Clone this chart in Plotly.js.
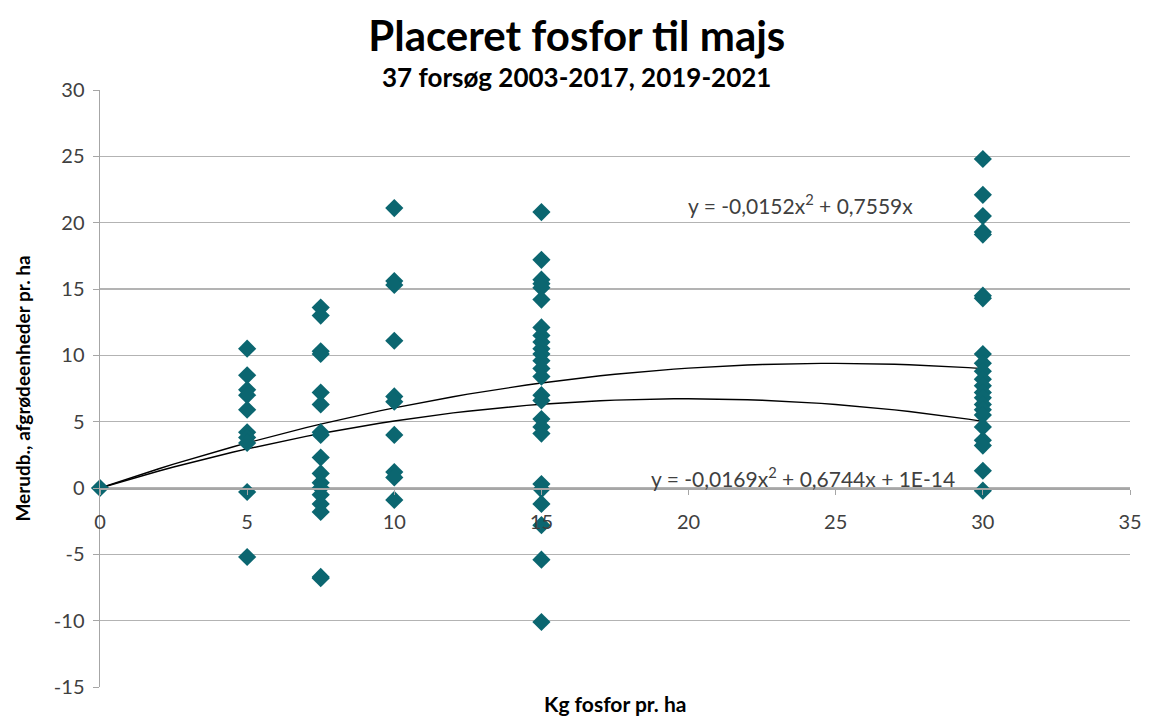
<!DOCTYPE html>
<html>
<head>
<meta charset="utf-8">
<script src="https://cdn.plot.ly/plotly-3.0.1.min.js"></script>
<style>html,body{margin:0;padding:0;background:#fff}#chart{width:1149px;height:717px}</style>
</head>
<body>
<div id="chart"></div>
<script>
// Dose levels (kg P/ha) and observed yield increases per dose
const doses = [0, 5, 7.5, 10, 15, 30];
const y0 = [0];
const y5 = [10.5, 8.5, 7.4, 7.0, 5.9, 4.2, 3.8, 3.4, -0.3, -5.2];
const y7_5 = [13.6, 13.0, 10.3, 10.1, 7.2, 6.3, 4.2, 4.0, 2.3, 1.1, 0.4, 0.0, -0.5, -1.2, -1.8, -6.7, -6.8];
const y10 = [21.1, 15.6, 15.3, 11.1, 6.9, 6.5, 4.0, 1.2, 0.8, -0.9];
const y15 = [20.8, 17.2, 15.7, 15.4, 15.1, 14.2, 12.1, 11.5, 11.0, 10.5, 10.1, 9.6, 9.0, 8.4, 7.0, 6.6, 5.2, 4.6, 4.1, 0.3, -0.1, -1.2, -2.8, -5.4, -10.1];
const y30 = [24.8, 22.1, 20.5, 19.3, 19.1, 14.5, 14.3, 10.1, 9.4, 8.8, 8.2, 7.7, 7.2, 6.8, 6.3, 5.9, 5.5, 4.6, 3.6, 3.2, 1.3, -0.2];
const groups = [y0, y5, y7_5, y10, y15, y30];

// Axis ticks (labels written with a plain hyphen, as in the original)
const xTickVals = [0, 5, 10, 15, 20, 25, 30, 35];
const xTickText = ['0', '5', '10', '15', '20', '25', '30', '35'];
const yTickVals = [-15, -10, -5, 0, 5, 10, 15, 20, 25, 30];
const yTickText = ['-15', '-10', '-5', '0', '5', '10', '15', '20', '25', '30'];

// Trendline coefficients as printed on the chart: [a, b, c] for a*x^2 + b*x + c
const trend1 = [-0.0152, 0.7559, 0];
const trend2 = [-0.0169, 0.6744, 1e-14];
const trendLabel1 = 'y = -0,0152x<sup>2</sup> + 0,7559x';
const trendLabel2 = 'y = -0,0169x<sup>2</sup> + 0,6744x + 1E-14';

const xs = [], ys = [];
groups.forEach((g, i) => g.forEach(v => { xs.push(doses[i]); ys.push(v); }));

function curve(c) {
  const cx = [], cy = [];
  for (let i = 0; i <= 60; i++) { const x = 30 * i / 60; cx.push(x); cy.push(c[0]*x*x + c[1]*x + c[2]); }
  return {x: cx, y: cy};
}
const c1 = curve(trend1), c2 = curve(trend2);

const font = 'Lato, "Open Sans", "Liberation Sans", sans-serif';
const data = [
  {x: c1.x, y: c1.y, mode: 'lines', line: {color: '#000', width: 1.4}, hoverinfo: 'skip'},
  {x: c2.x, y: c2.y, mode: 'lines', line: {color: '#000', width: 1.4}, hoverinfo: 'skip'},
  {x: xs, y: ys, mode: 'markers', cliponaxis: false,
   marker: {symbol: 'diamond', size: 14, color: '#0b6670'}}
];

const layout = {
  width: 1149, height: 717,
  margin: {l: 100, r: 19, t: 90, b: 30},
  paper_bgcolor: '#fff', plot_bgcolor: '#fff',
  showlegend: false,
  font: {family: font, size: 20, color: '#404040'},
  title: {text: '<b>Placeret fosfor til majs</b>', x: 0.502, xanchor: 'center', y: 0.95, yanchor: 'middle',
          font: {family: font, size: 42, color: '#000'}},
  xaxis: {range: [0, 35], tickmode: 'array', tickvals: xTickVals, ticktext: xTickText,
          showgrid: false, zeroline: false,
          anchor: 'free', position: 1/3, showline: true, linecolor: '#a6a6a6', linewidth: 1.5,
          ticks: 'outside', ticklen: 5, tickcolor: '#a6a6a6', ticklabelstandoff: 10,
          tickfont: {family: font, size: 20, color: '#404040'}},
  yaxis: {range: [-15, 30], tickmode: 'array', tickvals: yTickVals, ticktext: yTickText,
          showgrid: true, gridcolor: '#b3b3b3', gridwidth: 1.5,
          zeroline: false, showline: true, linecolor: '#a6a6a6', linewidth: 1.5,
          ticks: 'outside', ticklen: 6, tickcolor: '#a6a6a6', ticklabelstandoff: 4,
          tickfont: {family: font, size: 20, color: '#404040'},
          title: {text: '<b>Merudb., afgrødeenheder pr. ha</b>', standoff: 18,
                  font: {family: font, size: 19, color: '#000'}}},
  annotations: [
    {text: '<b>37 forsøg 2003-2017, 2019-2021</b>', xref: 'paper', yref: 'paper', x: 0.463, y: 1.022,
     xanchor: 'center', yanchor: 'middle', showarrow: false,
     font: {family: font, size: 26, color: '#000'}},
    {text: '<b>Kg fosfor pr. ha</b>', xref: 'paper', yref: 'paper', x: 0.5, y: -0.028,
     xanchor: 'center', yanchor: 'middle', showarrow: false,
     font: {family: font, size: 21, color: '#000'}},
    {text: trendLabel1, x: 23.8, y: 21.4, xref: 'x', yref: 'y', showarrow: false,
     font: {family: font, size: 21, color: '#404040'}},
    {text: trendLabel2, x: 23.9, y: 0.8, xref: 'x', yref: 'y', showarrow: false,
     font: {family: font, size: 21, color: '#404040'}}
  ]
};

Plotly.newPlot('chart', data, layout, {displayModeBar: false, staticPlot: true});
</script>
</body>
</html>
